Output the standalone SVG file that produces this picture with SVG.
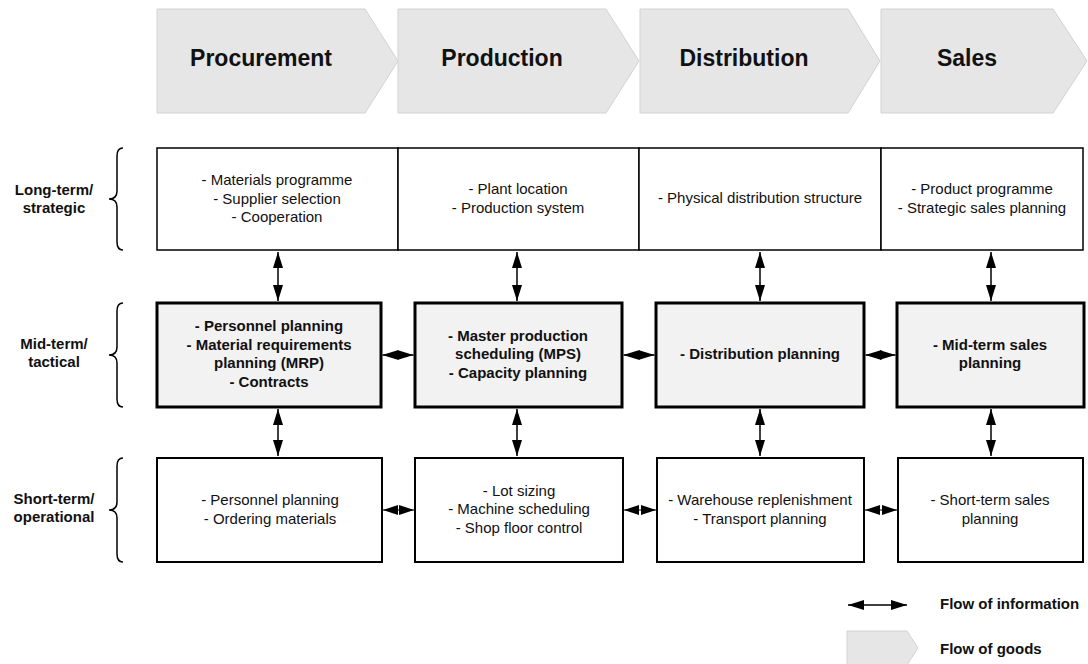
<svg xmlns="http://www.w3.org/2000/svg" width="1088" height="664" viewBox="0 0 1088 664">
  <style>
    .chev { fill: #e6e6e6; stroke: #d2d2d2; stroke-width: 1; }
    .stage { font-family: "Liberation Sans", Arial, sans-serif; font-size: 23px; font-weight: bold; fill: #111; text-anchor: middle; }
    .t { font-family: "Liberation Sans", Arial, sans-serif; font-size: 15px; fill: #111; text-anchor: middle; }
    .b { font-weight: bold; }
    .lbl { font-family: "Liberation Sans", Arial, sans-serif; font-size: 15px; font-weight: bold; fill: #111; }
    .box { fill: #ffffff; stroke: #000; stroke-width: 2; }
    .long { fill: #ffffff; stroke: #000; stroke-width: 1.5; }
    .mid { fill: #f2f2f2; stroke: #000; stroke-width: 3; }
    .brace { fill: none; stroke: #000; stroke-width: 1.5; }
    .flow { fill: none; stroke: #000; stroke-width: 1.5; marker-start: url(#head); marker-end: url(#head); }
    .flow-s { fill: none; stroke: #000; stroke-width: 1; marker-start: url(#head-s); marker-end: url(#head-s); }
  </style>
  <defs>
    <marker id="head" markerUnits="userSpaceOnUse" markerWidth="16" markerHeight="10" refX="16" refY="5" orient="auto-start-reverse">
      <path d="M0,0 L16,5 L0,10 Z" fill="#000"/>
    </marker>
    <marker id="head-s" markerUnits="userSpaceOnUse" markerWidth="15" markerHeight="10" refX="15" refY="5" orient="auto-start-reverse">
      <path d="M0,0 L15,5 L0,10 Z" fill="#000"/>
    </marker>
  </defs>

  <rect width="1088" height="664" fill="#ffffff"/>

  <!-- Stages of the goods flow -->
  <g id="stage-procurement">
    <polygon class="chev" points="157,9 365,9 398,61 365,113 157,113"/>
    <text class="stage" x="261" y="66">Procurement</text>
  </g>
  <g id="stage-production">
    <polygon class="chev" points="398,9 606,9 639,61 606,113 398,113"/>
    <text class="stage" x="502" y="66">Production</text>
  </g>
  <g id="stage-distribution">
    <polygon class="chev" points="640,9 848,9 880,61 848,113 640,113"/>
    <text class="stage" x="744" y="66">Distribution</text>
  </g>
  <g id="stage-sales">
    <polygon class="chev" points="881,9 1053,9 1087,61 1053,113 881,113"/>
    <text class="stage" x="967" y="66">Sales</text>
  </g>

  <!-- Planning horizons -->
  <g id="horizon-long">
    <path class="brace" d="M123,148 Q117,148 117,156 L117,191 Q117,199 109,199 Q117,199 117,207 L117,242 Q117,250 123,250"/>
    <text class="lbl" text-anchor="middle" x="54" y="195">Long-term/</text>
    <text class="lbl" text-anchor="middle" x="54" y="213">strategic</text>
  </g>
  <g id="horizon-mid">
    <path class="brace" d="M123,303 Q117,303 117,311 L117,347 Q117,355 109,355 Q117,355 117,363 L117,399 Q117,407 123,407"/>
    <text class="lbl" text-anchor="middle" x="54" y="349">Mid-term/</text>
    <text class="lbl" text-anchor="middle" x="54" y="367">tactical</text>
  </g>
  <g id="horizon-short">
    <path class="brace" d="M123,458 Q117,458 117,466 L117,502 Q117,510 109,510 Q117,510 117,518 L117,554 Q117,562 123,562"/>
    <text class="lbl" text-anchor="middle" x="54" y="504">Short-term/</text>
    <text class="lbl" text-anchor="middle" x="54" y="522">operational</text>
  </g>

  <!-- Long-term / strategic row -->
  <g id="long-procurement">
    <rect class="long" x="157" y="148" width="241" height="102"/>
    <text class="t" x="277" y="185">- Materials programme</text>
    <text class="t" x="277" y="203.5">- Supplier selection</text>
    <text class="t" x="277" y="222">- Cooperation</text>
  </g>
  <g id="long-production">
    <rect class="long" x="398" y="148" width="241" height="102"/>
    <text class="t" x="518" y="194">- Plant location</text>
    <text class="t" x="518" y="212.5">- Production system</text>
  </g>
  <g id="long-distribution">
    <rect class="long" x="639" y="148" width="242" height="102"/>
    <text class="t" x="760" y="203">- Physical distribution structure</text>
  </g>
  <g id="long-sales">
    <rect class="long" x="881" y="148" width="202" height="102"/>
    <text class="t" x="982" y="194">- Product programme</text>
    <text class="t" x="982" y="212.5">- Strategic sales planning</text>
  </g>

  <!-- Mid-term / tactical row -->
  <g id="mid-procurement">
    <rect class="mid" x="157" y="303" width="224" height="104"/>
    <text class="t b" x="269" y="331">- Personnel planning</text>
    <text class="t b" x="269" y="349.5">- Material requirements</text>
    <text class="t b" x="269" y="368">planning (MRP)</text>
    <text class="t b" x="269" y="386.5">- Contracts</text>
  </g>
  <g id="mid-production">
    <rect class="mid" x="415" y="303" width="207" height="104"/>
    <text class="t b" x="518" y="340.5">- Master production</text>
    <text class="t b" x="518" y="359">scheduling (MPS)</text>
    <text class="t b" x="518" y="377.5">- Capacity planning</text>
  </g>
  <g id="mid-distribution">
    <rect class="mid" x="656" y="303" width="208" height="104"/>
    <text class="t b" x="760" y="359">- Distribution planning</text>
  </g>
  <g id="mid-sales">
    <rect class="mid" x="897" y="303" width="187" height="104"/>
    <text class="t b" x="990" y="349.5">- Mid-term sales</text>
    <text class="t b" x="990" y="368">planning</text>
  </g>

  <!-- Short-term / operational row -->
  <g id="short-procurement">
    <rect class="box" x="157" y="458" width="225" height="104"/>
    <text class="t" x="270" y="505">- Personnel planning</text>
    <text class="t" x="270" y="523.5">- Ordering materials</text>
  </g>
  <g id="short-production">
    <rect class="box" x="415" y="458" width="208" height="104"/>
    <text class="t" x="519" y="495.5">- Lot sizing</text>
    <text class="t" x="519" y="514">- Machine scheduling</text>
    <text class="t" x="519" y="532.5">- Shop floor control</text>
  </g>
  <g id="short-distribution">
    <rect class="box" x="657" y="458" width="207" height="104"/>
    <text class="t" x="760" y="505">- Warehouse replenishment</text>
    <text class="t" x="760" y="523.5">- Transport planning</text>
  </g>
  <g id="short-sales">
    <rect class="box" x="898" y="458" width="185" height="104"/>
    <text class="t" x="990" y="505">- Short-term sales</text>
    <text class="t" x="990" y="523.5">planning</text>
  </g>

  <!-- Information flows -->
  <g id="connectors">
    <path class="flow" d="M278,252 L278,301"/>
    <path class="flow" d="M517,252 L517,301"/>
    <path class="flow" d="M760,252 L760,301"/>
    <path class="flow" d="M991,252 L991,301"/>

    <path class="flow" d="M278,409 L278,456"/>
    <path class="flow" d="M517,409 L517,456"/>
    <path class="flow" d="M760,409 L760,456"/>
    <path class="flow" d="M991,409 L991,456"/>

    <path class="flow" d="M382.5,355 L413.5,355"/>
    <path class="flow" d="M623.5,355 L654.5,355"/>
    <path class="flow" d="M865.5,355 L895.5,355"/>

    <path class="flow-s" d="M383,510 L414,510"/>
    <path class="flow-s" d="M624,510 L656,510"/>
    <path class="flow-s" d="M865,510 L897,510"/>
  </g>

  <!-- Legend -->
  <g id="legend-information">
    <path class="flow" d="M848,605 L907,605"/>
    <text class="lbl" x="940" y="609">Flow of information</text>
  </g>
  <g id="legend-goods">
    <polygon class="chev" points="847,631 907,631 918,648 907,665 847,665"/>
    <text class="lbl" x="940" y="654">Flow of goods</text>
  </g>
</svg>
